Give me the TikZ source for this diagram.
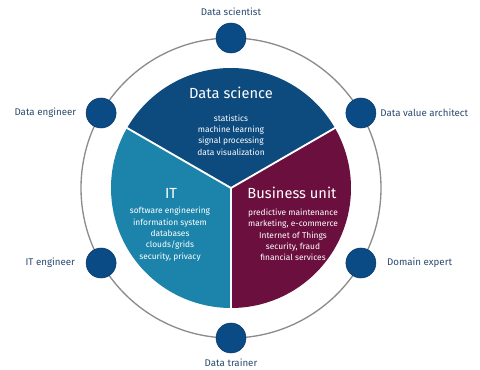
\documentclass[tikz,border=0pt]{standalone}
\usepackage{fontspec}
\setmainfont{Fira Sans}
\usetikzlibrary{positioning}

\definecolor{sciblue}{HTML}{0D4A7E}
\definecolor{itblue}{HTML}{1C84AB}
\definecolor{bizred}{HTML}{6B0F3E}
\definecolor{dotblue}{HTML}{0A4A85}
\definecolor{rolegray}{HTML}{2A4A6E}

\tikzset{
  ring/.style={draw=gray!90, line width=1pt},
  sector/.style={draw=white, line width=1.4pt},
  roledot/.style={circle, fill=dotblue, draw=dotblue!80!black, line width=0.4pt, minimum size=22.5pt, inner sep=0pt},
  role/.style={font=\fontsize{7.3}{9}\selectfont, text=rolegray, inner sep=1pt},
  head/.style={font=\fontsize{11}{13}\selectfont, text=white},
  items/.style={font=\fontsize{6.3}{8.5}\selectfont, text=white, align=center}
}

\begin{document}
\begin{tikzpicture}[x=0.75pt, y=0.75pt]
    \useasboundingbox (0,0) rectangle (480,369);
    \coordinate (c) at (231,181);

    % outer ring with the roles
    \draw[ring] (c) circle (150);

    % three fields
    \fill[sciblue] (c) -- ++(30:120) arc (30:150:120) -- cycle;
    \fill[itblue] (c) -- ++(150:120) arc (150:270:120) -- cycle;
    \fill[bizred] (c) -- ++(270:120) arc (270:390:120) -- cycle;
    \draw[sector] (c) -- ++(30:121);
    \draw[sector] (c) -- ++(150:121);
    \draw[sector] (c) -- ++(270:121);

    % roles around the ring
    \path (c) ++(90:150) node[roledot] (scientist) {};
    \path (c) ++(30:150) node[roledot] (architect) {};
    \path (c) ++(150:150) node[roledot] (engineer) {};
    \path (c) ++(210:150) node[roledot] (itengineer) {};
    \path (c) ++(330:150) node[roledot] (expert) {};
    \path (c) ++(270:150) node[roledot] (trainer) {};

    \node[role, above=4pt of scientist] (scientistlbl) {Data scientist};
    \node[role, right=2pt of architect] (architectlbl) {Data value architect};
    \node[role, left=6pt of engineer] (engineerlbl) {Data engineer};
    \node[role, left=7pt of itengineer] (itengineerlbl) {IT engineer};
    \node[role, right=7pt of expert] (expertlbl) {Domain expert};
    \node[role, below=3pt of trainer] (trainerlbl) {Data trainer};

    % field contents
    \node[head] (scihead) at (231,276) {Data science};
    \node[items] (sciitems) at (231,234) {statistics\\machine learning\\signal processing\\data visualization};

    \node[head] (ithead) at (171,176) {IT};
    \node[items] (ititems) at (170,135) {software engineering\\information system\\databases\\clouds/grids\\security, privacy};

    \node[head] (bizhead) at (292,176) {Business unit};
    \node[items] (bizitems) at (293,134) {predictive maintenance\\marketing, e-commerce\\Internet of Things\\security, fraud\\financial services};
\end{tikzpicture}
\end{document}
